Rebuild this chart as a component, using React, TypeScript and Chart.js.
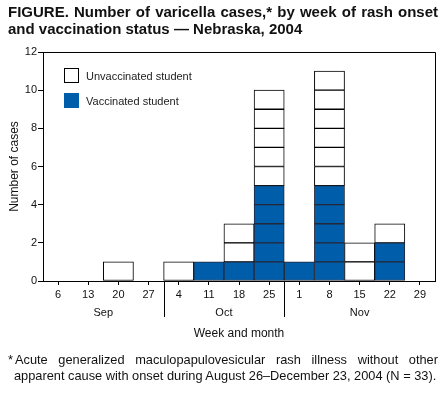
import React, { useEffect, useRef } from "react";
import { Chart, registerables } from "chart.js";

Chart.register(...registerables);

// ---- data ----
const weekLabels = ["6", "13", "20", "27", "4", "11", "18", "25", "1", "8", "15", "22", "29"];
const weekMonths = ["Sep", "Sep", "Sep", "Sep", "Oct", "Oct", "Oct", "Oct", "Nov", "Nov", "Nov", "Nov", "Nov"];
const vaccinated = [0, 0, 0, 0, 0, 1, 1, 5, 1, 5, 0, 2, 0];
const unvaccinated = [0, 0, 1, 0, 1, 0, 2, 5, 0, 6, 2, 1, 0];
const yMax = 12;
const yStep = 2;
const legendItems = ["Unvaccinated student", "Vaccinated student"];

const FONT = '"Liberation Sans", Arial, Helvetica, sans-serif';
const BLUE = "#005DA9";
const BLUE_LINE = "#23293a";

function layers(values: number[]) {
  const max = Math.max(...values);
  const out: (number | null)[][] = [];
  for (let k = 1; k <= max; k++) out.push(values.map((v) => (v >= k ? 1 : null)));
  return out;
}

const decorPlugin = {
  id: "decor",
  afterDraw(chart: any) {
    const { ctx, chartArea: a, scales } = chart;
    const x = scales.x;
    ctx.save();
    ctx.strokeStyle = "#000";
    ctx.lineWidth = 1;
    // top & right frame
    ctx.beginPath();
    ctx.moveTo(a.left, Math.round(a.top) + 0.5);
    ctx.lineTo(Math.round(a.right) + 0.5, Math.round(a.top) + 0.5);
    ctx.lineTo(Math.round(a.right) + 0.5, a.bottom);
    ctx.stroke();

    // month groups
    const groups: { name: string; start: number; end: number }[] = [];
    weekMonths.forEach((m, i) => {
      const g = groups[groups.length - 1];
      if (g && g.name === m) g.end = i;
      else groups.push({ name: m, start: i, end: i });
    });
    ctx.font = "11px " + FONT;
    ctx.fillStyle = "#111";
    ctx.textAlign = "center";
    ctx.textBaseline = "middle";
    groups.forEach((g, gi) => {
      const cx = (x.getPixelForValue(g.start) + x.getPixelForValue(g.end)) / 2;
      ctx.fillText(g.name, cx, a.bottom + 32);
      if (gi > 0) {
        const sx = Math.round((x.getPixelForValue(g.start - 1) + x.getPixelForValue(g.start)) / 2) + 0.5;
        ctx.beginPath();
        ctx.moveTo(sx, a.bottom);
        ctx.lineTo(sx, a.bottom + 36);
        ctx.stroke();
      }
    });

    // legend
    const lx = Math.round(a.left) + 21;
    const ly = Math.round(a.top) + 16;
    const fills = ["#fff", BLUE];
    const strokes = ["#000", BLUE];
    ctx.font = "11px " + FONT;
    ctx.textAlign = "left";
    legendItems.forEach((t, i) => {
      const y = ly + i * 25;
      ctx.fillStyle = fills[i];
      ctx.fillRect(lx, y, 15, 15);
      ctx.strokeStyle = strokes[i];
      ctx.strokeRect(lx + 0.5, y + 0.5, 14, 14);
      ctx.fillStyle = "#222";
      ctx.fillText(t, lx + 22, y + 8.5);
    });
    ctx.restore();
  },
};

export default function App() {
  const ref = useRef<HTMLCanvasElement | null>(null);

  useEffect(() => {
    if (!ref.current) return;
    const vLayers = layers(vaccinated);
    const uLayers = layers(unvaccinated);
    const datasets: any[] = [];
    vLayers.forEach((d) =>
      datasets.push({
        data: d,
        backgroundColor: BLUE,
        borderColor: BLUE_LINE,
        borderWidth: 1,
        borderSkipped: false,
        stack: "s",
      })
    );
    uLayers.forEach((d) =>
      datasets.push({
        data: d,
        backgroundColor: "#fff",
        borderColor: "#000",
        borderWidth: 1,
        borderSkipped: false,
        stack: "s",
      })
    );

    const chart = new Chart(ref.current, {
      type: "bar",
      data: { labels: weekLabels, datasets },
      options: {
        animation: false,
        responsive: true,
        maintainAspectRatio: false,
        layout: { padding: { top: 52, right: 11, left: 0, bottom: 51 } },
        datasets: { bar: { categoryPercentage: 1, barPercentage: 1 } },
        plugins: { legend: { display: false }, tooltip: { enabled: false }, title: { display: false } },
        scales: {
          x: {
            stacked: true,
            afterFit: (s: any) => {
              s.height = 64;
            },
            grid: { offset: false, drawOnChartArea: false, drawTicks: true, tickLength: 4, color: "#000" },
            border: { display: true, color: "#000", width: 1 },
            ticks: { font: { family: FONT, size: 11 }, color: "#111", padding: 3, maxRotation: 0, autoSkip: false },
            title: {
              display: true,
              text: "Week and month",
              font: { family: FONT, size: 12 },
              color: "#111",
              padding: { top: 0, bottom: 4 },
            },
          },
          y: {
            stacked: true,
            min: 0,
            max: yMax,
            afterFit: (s: any) => {
              s.width = 43;
            },
            grid: { drawOnChartArea: false, drawTicks: true, tickLength: 5, color: "#000" },
            border: { display: true, color: "#000", width: 1 },
            ticks: { stepSize: yStep, font: { family: FONT, size: 11 }, color: "#111", padding: 1 },
            title: {
              display: true,
              text: "Number of cases",
              font: { family: FONT, size: 12 },
              color: "#111",
              padding: { top: 7, bottom: 0 },
            },
          },
        },
      },
      plugins: [decorPlugin],
    } as any);
    return () => chart.destroy();
  }, []);

  return (
    <div style={{ position: "absolute", left: 0, top: 0, width: 446, height: 396, background: "#fff", fontFamily: FONT }}>
      <div style={{ position: "absolute", left: 0, top: 0, width: 446, height: 396 }}>
        <canvas ref={ref} />
      </div>
      <div
        style={{
          position: "absolute",
          left: 8,
          top: 3,
          width: 430,
          fontWeight: "bold",
          fontSize: 15,
          lineHeight: "17px",
          color: "#111",
        }}
      >
        <div style={{ textAlign: "justify", textAlignLast: "justify", whiteSpace: "nowrap" }}>
          FIGURE. Number of varicella cases,* by week of rash onset
        </div>
        <div>and vaccination status — Nebraska, 2004</div>
      </div>
      <div style={{ position: "absolute", left: 8, top: 352, width: 430, fontSize: 12.8, lineHeight: "16px", color: "#111" }}>
        <div style={{ display: "flex" }}>
          <span style={{ width: 7 }}>*</span>
          <span style={{ flex: 1, textAlign: "justify", textAlignLast: "justify" }}>
            Acute generalized maculopapulovesicular rash illness without other
          </span>
        </div>
        <div style={{ paddingLeft: 6, whiteSpace: "nowrap" }}>
          apparent cause with onset during August 26–December 23, 2004 (N = 33).
        </div>
      </div>
    </div>
  );
}
